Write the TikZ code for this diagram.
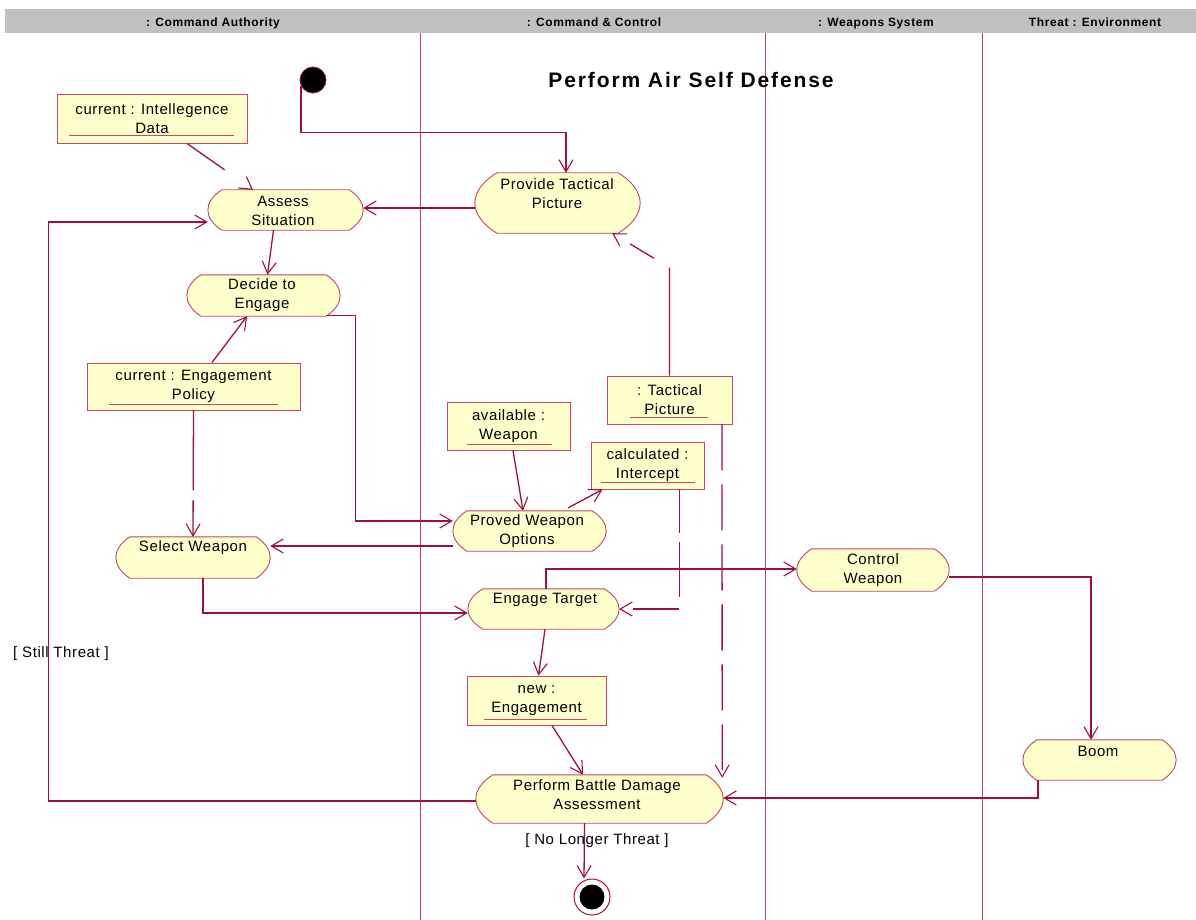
\documentclass[tikz,border=0pt]{standalone}
\usepackage{fontspec}
\setmainfont{Liberation Sans}
\newfontfamily\bodyf[LetterSpace=4]{Liberation Sans}
\newfontfamily\headf[LetterSpace=5]{Liberation Sans}
\newfontfamily\titlef[LetterSpace=9]{Liberation Sans}
\usetikzlibrary{arrows.meta,calc}
\definecolor{flowc}{HTML}{A0103F}
\definecolor{lanec}{HTML}{B8406A}
\definecolor{shapec}{HTML}{C04868}
\definecolor{fillc}{HTML}{FFFFCC}
\definecolor{barc}{HTML}{C0C0C0}
\newcommand\actbox[2]{%
 \path[actshape] ($(#1.north west)+(#2,0)$) -- ($(#1.north east)+(-#2,0)$)
   .. controls ($(#1.north east)!0.3!(#1.south east)+(0.33*#2,0)$) and ($(#1.north east)!0.7!(#1.south east)+(0.33*#2,0)$) .. ($(#1.south east)+(-#2,0)$)
   -- ($(#1.south west)+(#2,0)$)
   .. controls ($(#1.north west)!0.7!(#1.south west)+(-0.33*#2,0)$) and ($(#1.north west)!0.3!(#1.south west)+(-0.33*#2,0)$) .. cycle;}
\begin{document}
\begin{tikzpicture}[x=1pt,y=-1pt,
  flow/.style={draw=flowc, line width=1.3pt, -{Straight Barb[length=12pt,width=14pt,line width=1.1pt]}},
  objflow/.style={flow},
  act/.style={rectangle, inner sep=0pt, draw=none},
  actshape/.style={draw=shapec, fill=fillc, line width=0.9pt},
  obj/.style={rectangle, draw=shapec, fill=fillc, line width=0.9pt, inner sep=0pt, align=center, font=\bodyf\fontsize{15}{19}\selectfont},
  uline/.style={draw=shapec, line width=0.9pt},
  lbl/.style={inner sep=0pt, align=center, font=\bodyf\fontsize{15}{19}\selectfont},
  head/.style={inner sep=0pt, text height=9pt, text depth=2.5pt, font=\headf\bfseries\fontsize{12}{14}\selectfont},
  lane/.style={draw=lanec, line width=1pt}]
\useasboundingbox (0,0) rectangle (1196,920);
\fill[white] (0,0) rectangle (1196,920);
% header
\fill[barc] (5,9) rectangle (1196,33);
\node[head] (h1) at (213,23) {: Command Authority};
\node[head] (h2) at (594,23) {: Command \& Control};
\node[head] (h3) at (876,23) {: Weapons System};
\node[head] (h4) at (1095,23) {Threat : Environment};
% lanes
\draw[lane] (420,33) -- (420,920);
\draw[lane] (765,33) -- (765,920);
\draw[lane] (982,33) -- (982,920);
% title
\node[inner sep=0pt, font=\titlef\bfseries\fontsize{21}{24}\selectfont] (title) at (691,80) {Perform Air Self Defense};
% initial and final
\node[circle, fill=black, draw=flowc, line width=0.8pt, minimum size=26pt, inner sep=0pt] (init) at (313,80) {};
\node[circle, fill=white, draw=flowc, line width=1pt, minimum size=36pt, inner sep=0pt] (final) at (592,897) {};
\node[circle, fill=black, minimum size=25pt, inner sep=0pt] (finalin) at (592,897) {};
% activities
\node[act, minimum width=155pt, minimum height=40pt] (assess) at (285.5,210) {};
\node[act, minimum width=165pt, minimum height=60pt] (ptp) at (557.5,203) {};
\node[act, minimum width=153pt, minimum height=41pt] (decide) at (263.5,295.5) {};
\node[act, minimum width=154pt, minimum height=41pt] (select) at (193,557.5) {};
\node[act, minimum width=153pt, minimum height=40pt] (pwo) at (529.5,531) {};
\node[act, minimum width=151pt, minimum height=40pt] (engage) at (543.5,609) {};
\node[act, minimum width=152pt, minimum height=42pt] (cw) at (873,570) {};
\node[act, minimum width=153pt, minimum height=40pt] (boom) at (1099.5,760) {};
\node[act, minimum width=247pt, minimum height=48pt] (pbda) at (599.5,799) {};
\actbox{assess}{14}
\actbox{ptp}{22}
\actbox{decide}{14}
\actbox{select}{14}
\actbox{pwo}{14}
\actbox{engage}{15}
\actbox{cw}{15}
\actbox{boom}{14}
\actbox{pbda}{17}
\node[lbl] (assess-t) at (283,210.5) {Assess\\Situation};
\node[lbl] (ptp-t) at (557,194) {Provide Tactical\\Picture};
\node[lbl] (decide-t) at (262,295.5) {Decide to\\Engage};
\node[lbl] (select-t) at (193,548) {Select Weapon};
\node[lbl] (pwo-t) at (527,531) {Proved Weapon\\Options};
\node[lbl] (engage-t) at (545,600) {Engage Target};
\node[lbl] (cw-t) at (873,570.5) {Control\\Weapon};
\node[lbl] (boom-t) at (1098,751) {Boom};
\node[lbl] (pbda-t) at (597,795) {Perform Battle Damage\\Assessment};
% objects
\node[obj, minimum width=190pt, minimum height=49pt] (intel) at (152,118.5) {current : Intellegence\\Data};
\node[obj, minimum width=213pt, minimum height=47pt] (policy) at (193.5,386.5) {current : Engagement\\Policy};
\node[obj, minimum width=123pt, minimum height=48pt] (weapon) at (508.5,426) {available :\\Weapon};
\node[obj, minimum width=125pt, minimum height=48pt] (tpic) at (669.5,400) {: Tactical\\Picture};
\node[obj, minimum width=113pt, minimum height=47pt] (icept) at (647.5,465.5) {calculated :\\Intercept};
\node[obj, minimum width=139pt, minimum height=49pt] (neweng) at (536.5,700.5) {new :\\Engagement};
\draw[uline] (69,135) -- (234,135);
\draw[uline] (109,404) -- (278,404);
\draw[uline] (467,444) -- (552,444);
\draw[uline] (630,417) -- (708,417);
\draw[uline] (601,482) -- (695,482);
\draw[uline] (484,719) -- (587,719);
% control flows
\draw[flow] (init.205) |- ($(ptp.north)+(8.5,-40)$) -- ($(ptp.north)+(8.5,0)$);
\draw[flow] ($(ptp.west)+(0,5)$) -- ($(assess.east)+(0,-2)$);
\draw[flow] ($(assess.south)+(-12,0)$) -- ($(decide.north)+(4,0)$);
\draw[flow] ($(decide.south east)+(-14,-1)$) -| ($(pwo.west)+(-97,-10)$) -- ($(pwo.west)+(0,-10)$);
\draw[flow] ($(pwo.west)+(0,15)$) -- ($(select.east)+(0,-11.5)$);
\draw[flow] ($(select.south)+(10,0)$) |- ($(engage.west)+(0,4)$);
\draw[flow] ($(engage.north)+(2.5,0)$) |- ($(cw.west)+(0,-1)$);
\draw[flow] ($(cw.east)+(0,7)$) -| ($(boom.north)+(-8.5,0)$);
\draw[flow] ($(boom.south)+(-61.5,0)$) |- ($(pbda.east)+(0,-1)$);
\draw[flow] ($(pbda.west)+(0,2)$) -- ($(pbda.west)+(-427,2)$) |- ($(assess.west)+(0,12)$);
\draw[flow] ($(pbda.south)+(-15,0)$) -- ($(final.north)+(-8,0)$);
\node[lbl] (still) at (61,654) {[ Still Threat ]};
\node[lbl] (nolonger) at (597,841) {[ No Longer Threat ]};
% object flows
\draw[objflow, dash pattern=on 46pt off 40pt] ($(intel.south)+(35,0)$) -- ($(assess.north)+(-32.5,0)$);
\draw[objflow] ($(policy.north)+(18.5,0)$) -- ($(decide.south)+(-16.5,0)$);
\draw[objflow, dash pattern=on 80pt off 10pt] (policy.south) -- (select.north);
\draw[objflow] ($(weapon.south)+(4.5,0)$) -- ($(pwo.north)+(-6.5,0)$);
\draw[objflow] ($(pwo.north east)+(-38,-3)$) -- ($(icept.south west)+(12,0)$);
\draw[objflow, dash pattern=on 108pt off 18pt on 28pt off 30pt] (tpic.north) -- ($(tpic.north)+(0,-108)$) -- ($(ptp.south east)+(-28,0)$);
\draw[objflow, dash pattern=on 46pt off 14pt] ($(tpic.south)+(52.5,0)$) -- ($(pbda.north east)+(-1,3)$);
\draw[objflow, dash pattern=on 44pt off 9pt on 55pt off 12pt on 46pt off 30pt] ($(icept.south)+(32,0)$) |- (engage.east);
\draw[objflow] ($(engage.south)+(1.5,0)$) -- ($(neweng.north)+(2,0)$);
\draw[objflow] ($(neweng.south)+(15.5,0)$) -- ($(pbda.north)+(-16.5,0)$);
\end{tikzpicture}
\end{document}
